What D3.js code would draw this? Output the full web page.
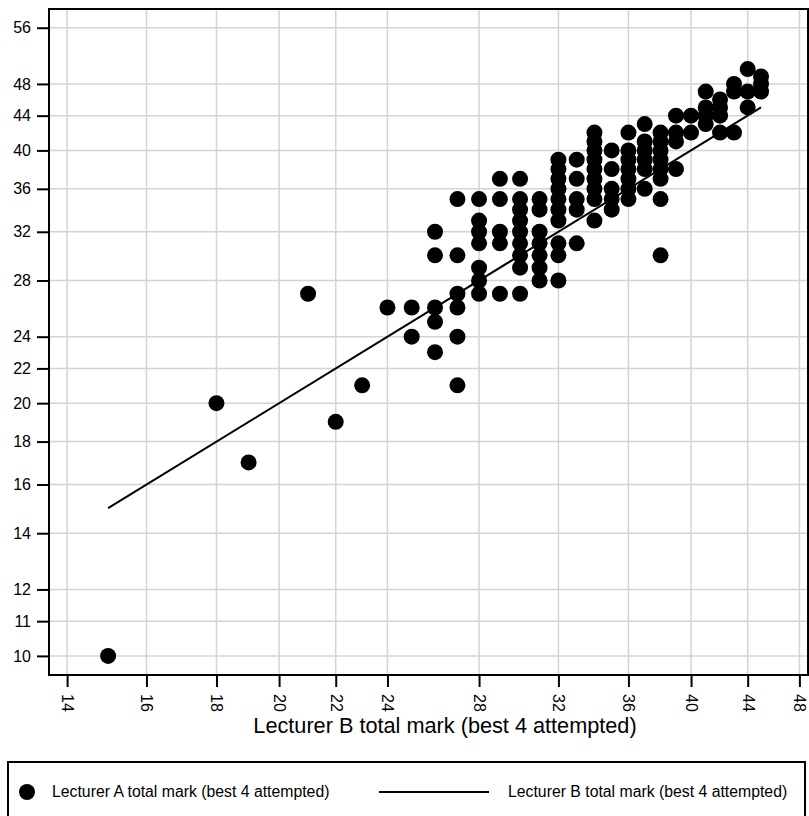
<!DOCTYPE html>
<html>
<head>
<meta charset="utf-8">
<script src="https://cdn.jsdelivr.net/npm/d3@7"></script>
<style>
  body { margin: 0; background: #fff; }
  svg { display: block; font-family: "Liberation Sans", Arial, sans-serif; }
</style>
</head>
<body>
<div class="container"></div>
<script>
// Lecturer B mark (x) and Lecturer A mark (y), one pair per student
const markB = [
  15, 18, 19, 21, 22, 23, 24, 25, 25,
  26, 26, 26, 26, 26,
  27, 27, 27, 27, 27, 27,
  28, 28, 28, 28, 28, 28, 28,
  29, 29, 29, 29, 29,
  30, 30, 30, 30, 30, 30, 30, 30, 30,
  31, 31, 31, 31, 31, 31, 31,
  32, 32, 32, 32, 32, 32, 32, 32, 32, 32,
  33, 33, 33, 33, 33,
  34, 34, 34, 34, 34, 34, 34, 34, 34,
  35, 35, 35, 35, 35,
  36, 36, 36, 36, 36, 36, 36,
  37, 37, 37, 37, 37, 37,
  38, 38, 38, 38, 38, 38, 38, 38,
  39, 39, 39, 39,
  40, 40,
  41, 41, 41, 41,
  42, 42, 42, 42,
  43, 43, 43,
  44, 44, 44,
  45, 45, 45
];
const markA = [
  10, 20, 17, 27, 19, 21, 26, 26, 24,
  32, 30, 26, 25, 23,
  35, 30, 27, 26, 24, 21,
  35, 33, 32, 31, 29, 28, 27,
  37, 35, 32, 31, 27,
  37, 35, 34, 33, 32, 31, 30, 29, 27,
  35, 34, 32, 31, 30, 29, 28,
  39, 38, 37, 36, 35, 34, 33, 31, 30, 28,
  39, 37, 35, 34, 31,
  42, 41, 40, 39, 38, 37, 36, 35, 33,
  40, 38, 36, 35, 34,
  42, 40, 39, 38, 37, 36, 35,
  43, 41, 40, 39, 38, 36,
  42, 41, 40, 39, 38, 37, 35, 30,
  44, 42, 41, 38,
  44, 42,
  47, 45, 44, 43,
  46, 45, 44, 42,
  48, 47, 42,
  50, 47, 45,
  49, 48, 47
];
// reference line: Lecturer B against itself
const lineB = [15, 45];

const xTicks = [14, 16, 18, 20, 22, 24, 28, 32, 36, 40, 44, 48];
const yTicks = [10, 11, 12, 14, 16, 18, 20, 22, 24, 28, 32, 36, 40, 44, 48, 56];

const xTitle = "Lecturer B total mark (best 4 attempted)";
const legendA = "Lecturer A total mark (best 4 attempted)";
const legendB = "Lecturer B total mark (best 4 attempted)";

const width = 809, height = 816;
const plot = { left: 49, right: 808, top: 9, bottom: 675 };

const svg = d3.select(".container")
  .append("svg")
    .attr("width", width)
    .attr("height", height);

const x = d3.scaleLog()
  .domain([13.58, 48.7])
  .range([plot.left, plot.right]);

const y = d3.scaleLog()
  .domain([9.49, 58.95])
  .range([plot.bottom, plot.top]);

// grid
const grid = svg.append("g").attr("stroke", "#d4d4d4").attr("stroke-width", 1.5);
grid.selectAll(".gx")
  .data(xTicks)
  .join("line")
    .attr("x1", d => x(d)).attr("x2", d => x(d))
    .attr("y1", plot.top).attr("y2", plot.bottom);
grid.selectAll(".gy")
  .data(yTicks)
  .join("line")
    .attr("y1", d => y(d)).attr("y2", d => y(d))
    .attr("x1", plot.left).attr("x2", plot.right);

// points
const students = markB.map((b, i) => ({ b: b, a: markA[i] }));
svg.append("g")
  .selectAll("circle")
  .data(students)
  .join("circle")
    .attr("cx", d => x(d.b))
    .attr("cy", d => y(d.a))
    .attr("r", 8)
    .attr("fill", "#000");

// line
svg.append("path")
  .datum(lineB)
  .attr("fill", "none")
  .attr("stroke", "#000")
  .attr("stroke-width", 2)
  .attr("d", d3.line().x(d => x(d)).y(d => y(d)));

// frame
svg.append("rect")
  .attr("x", plot.left).attr("y", plot.top)
  .attr("width", plot.right - plot.left)
  .attr("height", plot.bottom - plot.top)
  .attr("fill", "none")
  .attr("stroke", "#000")
  .attr("stroke-width", 2);

// axes
const yAxis = svg.append("g")
  .attr("transform", `translate(${plot.left},0)`)
  .call(d3.axisLeft(y).tickValues(yTicks).tickFormat(d3.format("d")).tickSize(12).tickPadding(6));
yAxis.select(".domain").remove();
yAxis.selectAll("line").attr("stroke-width", 2);
yAxis.selectAll("text").attr("font-size", 16).attr("fill", "#000");

const xAxis = svg.append("g")
  .attr("transform", `translate(0,${plot.bottom})`)
  .call(d3.axisBottom(x).tickValues(xTicks).tickFormat(d3.format("d")).tickSize(12));
xAxis.select(".domain").remove();
xAxis.selectAll("line").attr("stroke-width", 2);
xAxis.selectAll("text")
  .attr("font-size", 16)
  .attr("fill", "#000")
  .attr("transform", "rotate(90)")
  .attr("x", 19)
  .attr("y", 0)
  .attr("dy", "0.35em")
  .style("text-anchor", "start");

svg.append("text")
  .attr("x", 445)
  .attr("y", 733)
  .attr("text-anchor", "middle")
  .attr("font-size", 21.7)
  .text(xTitle);

// legend
const legend = svg.append("g");
legend.append("rect")
  .attr("x", 8).attr("y", 762)
  .attr("width", 797).attr("height", 70)
  .attr("fill", "none")
  .attr("stroke", "#000")
  .attr("stroke-width", 2);
legend.append("circle")
  .attr("cx", 27).attr("cy", 792).attr("r", 8);
legend.append("text")
  .attr("x", 52).attr("y", 797)
  .attr("font-size", 15.8)
  .text(legendA);
legend.append("line")
  .attr("x1", 379).attr("x2", 489)
  .attr("y1", 792).attr("y2", 792)
  .attr("stroke", "#000").attr("stroke-width", 2);
legend.append("text")
  .attr("x", 508).attr("y", 797)
  .attr("font-size", 15.8)
  .text(legendB);
</script>
</body>
</html>
